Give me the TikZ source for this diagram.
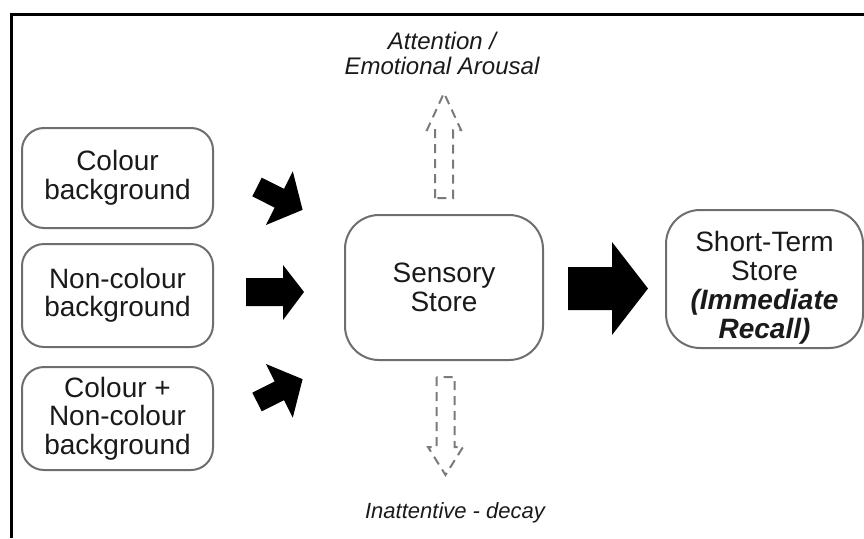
\documentclass[tikz,border=0pt]{standalone}
\usepackage{fontspec}
\setmainfont{Liberation Sans}
\definecolor{textgray}{HTML}{1A1A1A}
\definecolor{boxgray}{HTML}{6E6E6E}
\definecolor{dashgray}{HTML}{7A7A7A}
\begin{document}
\begin{tikzpicture}[x=1pt,y=-1pt,
  box/.style={draw=boxgray, line width=2pt, rounded corners=22pt, align=center,
    text=textgray, font=\fontsize{28}{28.5}\selectfont, inner sep=0pt},
  bigbox/.style={box, rounded corners=34pt},
  blockarrow/.style={fill=black},
  ghostarrow/.style={draw=dashgray, line width=2pt, dash pattern=on 9pt off 6pt},
  label/.style={font=\fontsize{24}{25}\selectfont\itshape, text=textgray, align=center}]
\useasboundingbox (0,0) rectangle (864,538);

% frame
\draw[line width=3pt] (864,14) -- (11,14) -- (11,538);

% input boxes
\node[box, minimum width=191pt, minimum height=100pt] (colour) at (117.5,178) {Colour\\background};
\node[box, minimum width=191pt, minimum height=103pt] (noncolour) at (117.5,295.5) {Non-colour\\background};
\node[box, minimum width=191pt, minimum height=103pt] (both) at (117.5,418.5) {Colour +\\Non-colour\\background};

% stores
\node[bigbox, minimum width=198pt, minimum height=145pt, font=\fontsize{28}{29}\selectfont] (sensory) at (444,287.5) {Sensory\\Store};
\node[bigbox, minimum width=197pt, minimum height=138pt, font=\fontsize{28}{29}\selectfont] (shortterm) at (764.5,279)
  {\rule{0pt}{38pt}Short-Term\\Store\\\textbf{\textit{(Immediate}}\\\textbf{\textit{Recall)}}};

% block arrows into the sensory store
\begin{scope}[shift={(257,187)}, rotate=-26.6]
  \fill[blockarrow] (0,-10.5) -- (25,-10.5) -- (25,-30) -- (51,0) -- (25,30) -- (25,10.5) -- (0,10.5) -- cycle;
\end{scope}
\fill[blockarrow] (246,278) -- (283,278) -- (283,265) -- (304,292) -- (283,320) -- (283,306) -- (246,306) -- cycle;
\begin{scope}[shift={(257,402)}, rotate=26.6]
  \fill[blockarrow] (0,-10.5) -- (25,-10.5) -- (25,-30) -- (51,0) -- (25,30) -- (25,10.5) -- (0,10.5) -- cycle;
\end{scope}

% block arrow to the short-term store
\fill[blockarrow] (568,267) -- (612,267) -- (612,242) -- (648,288.5) -- (612,335) -- (612,310) -- (568,310) -- cycle;

% dashed outline arrows
\draw[ghostarrow] (435,198) -- (435,130) -- (427,130) -- (444,93) -- (461,130) -- (453,130) -- (453,198) -- cycle;
\draw[ghostarrow] (436.5,377) -- (436.5,447) -- (428,447) -- (445.5,475) -- (463,447) -- (454.5,447) -- (454.5,377) -- cycle;

% labels
\node[label] (attention) at (442,53) {Attention /\\Emotional Arousal};
\node[label, font=\fontsize{22}{24}\selectfont\itshape] (decay) at (455,513) {Inattentive - decay};
\end{tikzpicture}
\end{document}
